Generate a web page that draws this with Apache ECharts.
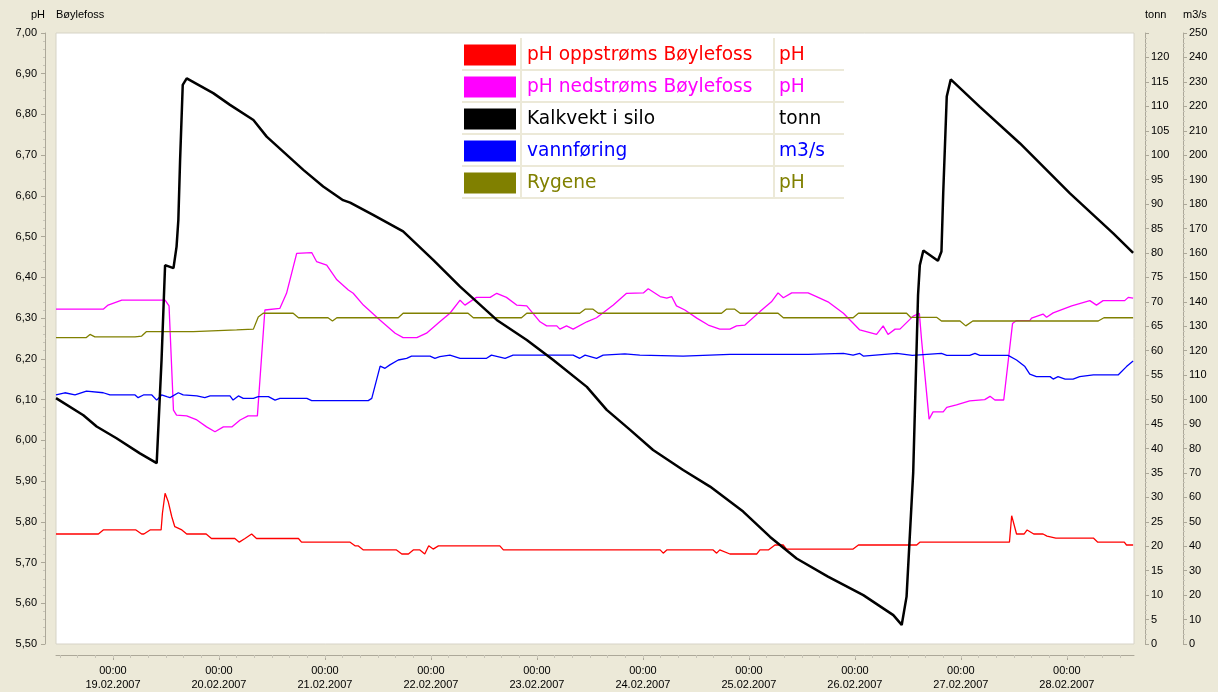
<!DOCTYPE html>
<html>
<head>
<meta charset="utf-8">
<title>Bøylefoss</title>
<script src="https://cdn.jsdelivr.net/npm/echarts@6/dist/echarts.min.js"></script>
<style>
  html, body { margin: 0; padding: 0; background: #ece9d8; }
  #chart { width: 1218px; height: 692px; }
</style>
</head>
<body>
<div id="chart"></div>
<script>
// x values are hours counted from 19.02.2007 00:00
const dayHours = [0, 24, 48, 72, 96, 120, 144, 168, 192, 216]
const dayLabels = ['19.02.2007', '20.02.2007', '21.02.2007', '22.02.2007', '23.02.2007',
  '24.02.2007', '25.02.2007', '26.02.2007', '27.02.2007', '28.02.2007']

const seriesNames = ['pH oppstrøms Bøylefoss', 'pH nedstrøms Bøylefoss', 'Kalkvekt i silo', 'vannføring', 'Rygene']
const seriesUnits = ['pH', 'pH', 'tonn', 'm3/s', 'pH']
const seriesColors = ['#ff0000', '#ff00ff', '#000000', '#0000ff', '#808000']

// pH oppstrøms Bøylefoss [hour, pH]
const phOppstroms = [
  [-12.9, 5.770], [-3.3, 5.770], [-2.2, 5.780], [5.2, 5.780], [6.5, 5.770], [7.0, 5.770], [8.4, 5.780],
  [10.9, 5.780], [11.2, 5.821], [11.8, 5.870], [12.5, 5.850], [13.3, 5.813], [14.0, 5.788], [15.6, 5.780],
  [16.7, 5.770], [21.1, 5.770], [22.3, 5.759], [27.6, 5.759], [28.6, 5.750], [29.9, 5.759], [31.4, 5.770],
  [32.5, 5.759], [42.0, 5.759], [42.7, 5.750], [53.7, 5.750], [54.8, 5.741], [55.5, 5.741], [56.7, 5.731],
  [64.2, 5.731], [65.4, 5.721], [66.9, 5.721], [68.0, 5.731], [69.5, 5.731], [70.6, 5.721], [71.5, 5.741],
  [72.5, 5.733], [73.7, 5.741], [87.6, 5.741], [88.4, 5.731], [123.9, 5.731], [124.6, 5.723], [125.4, 5.731],
  [135.9, 5.731], [136.7, 5.723], [137.4, 5.731], [139.7, 5.721], [145.8, 5.721], [146.5, 5.731],
  [148.4, 5.731], [149.9, 5.743], [151.8, 5.743], [152.5, 5.733], [167.6, 5.733], [168.8, 5.743],
  [182.0, 5.743], [182.7, 5.750], [203.0, 5.750], [203.5, 5.815], [204.6, 5.770], [206.3, 5.770],
  [207.0, 5.780], [208.5, 5.770], [210.6, 5.770], [211.5, 5.765], [213.5, 5.760], [222.0, 5.760],
  [223.0, 5.750], [229.0, 5.750], [229.5, 5.743], [231.0, 5.743]
]

// pH nedstrøms Bøylefoss [hour, pH]
const phNedstroms = [
  [-12.9, 6.322], [-2.2, 6.322], [-1.1, 6.332], [2.0, 6.344], [11.8, 6.344], [12.7, 6.330], [13.7, 6.074],
  [14.4, 6.062], [16.7, 6.060], [19.0, 6.050], [21.2, 6.033], [23.1, 6.021], [25.0, 6.033], [26.9, 6.033],
  [28.8, 6.050], [30.6, 6.060], [32.7, 6.060], [34.4, 6.320], [37.8, 6.324], [39.3, 6.361], [41.6, 6.459],
  [45.0, 6.461], [46.1, 6.439], [48.4, 6.430], [50.7, 6.394], [53.3, 6.369], [54.4, 6.361], [56.7, 6.332],
  [60.5, 6.295], [63.9, 6.263], [65.7, 6.252], [68.8, 6.252], [71.0, 6.263], [74.0, 6.291], [76.3, 6.312],
  [78.6, 6.344], [79.7, 6.332], [82.3, 6.351], [85.4, 6.351], [86.9, 6.361], [89.1, 6.351], [91.4, 6.332],
  [93.7, 6.330], [96.7, 6.291], [98.2, 6.281], [100.5, 6.281], [101.2, 6.273], [102.7, 6.281],
  [104.2, 6.273], [107.3, 6.291], [109.5, 6.301], [113.3, 6.332], [116.3, 6.361], [120.1, 6.362],
  [121.2, 6.372], [123.9, 6.353], [125.4, 6.349], [126.5, 6.353], [127.6, 6.330], [129.5, 6.320],
  [132.2, 6.300], [134.8, 6.283], [137.4, 6.273], [139.7, 6.273], [141.2, 6.281], [143.1, 6.283],
  [146.5, 6.316], [149.1, 6.340], [150.6, 6.362], [151.8, 6.350], [153.7, 6.362], [157.4, 6.362],
  [159.3, 6.353], [161.9, 6.340], [165.4, 6.312], [169.1, 6.271], [172.9, 6.260], [174.4, 6.281],
  [175.5, 6.260], [177.1, 6.273], [178.2, 6.273], [181.2, 6.305], [182.6, 6.312], [183.1, 6.246],
  [184.8, 6.052], [185.7, 6.070], [188.0, 6.070], [188.8, 6.081], [191.0, 6.087], [194.0, 6.097],
  [197.4, 6.100], [198.6, 6.108], [199.7, 6.099], [201.7, 6.099], [203.7, 6.287], [204.6, 6.294],
  [207.6, 6.294], [208.0, 6.300], [210.6, 6.310], [211.4, 6.302], [212.9, 6.313], [217.1, 6.330],
  [221.2, 6.343], [222.7, 6.332], [224.2, 6.343], [229.1, 6.343], [229.9, 6.351], [231.0, 6.349]
]

// Kalkvekt i silo [hour, tonn]
const kalkvekt = [
  [-12.9, 50.3], [-6.7, 46.8], [-3.7, 44.5], [0.8, 42.1], [6.1, 39.0], [9.9, 37.0], [11.0, 58.1],
  [11.8, 77.5], [12.0, 77.7], [13.7, 76.9], [14.4, 81.3], [14.8, 86.7], [15.2, 99.0], [15.8, 114.4],
  [16.7, 115.7], [22.7, 112.7], [26.5, 110.3], [31.8, 107.2], [34.8, 103.8], [43.1, 97.0], [47.6, 93.6],
  [52.1, 90.8], [53.7, 90.3], [58.9, 87.8], [65.7, 84.4], [72.5, 78.6], [78.6, 73.1], [86.9, 66.3],
  [93.7, 62.2], [99.7, 58.1], [107.3, 52.6], [111.8, 47.9], [117.1, 43.8], [122.3, 39.7], [129.1, 35.6],
  [135.2, 32.2], [142.7, 27.1], [148.8, 21.9], [154.8, 17.5], [161.9, 13.8], [169.9, 10.0], [176.7, 5.9],
  [178.6, 3.9], [179.7, 9.7], [181.2, 35.0], [182.3, 71.4], [182.7, 77.5], [183.5, 80.5], [186.8, 78.4],
  [187.6, 80.3], [188.0, 92.2], [188.8, 112.0], [189.7, 115.5], [196.3, 109.9], [205.4, 102.4],
  [216.7, 92.2], [226.5, 84.0], [231.0, 80.0]
]

// vannføring [hour, m3/s]
const vannforing = [
  [-12.9, 101.9], [-10.9, 102.8], [-8.6, 101.9], [-6.0, 103.5], [-2.2, 102.8], [-0.7, 101.9], [5.0, 101.9],
  [5.7, 100.8], [6.9, 101.9], [8.8, 101.9], [9.9, 99.8], [11.0, 101.9], [12.2, 101.2], [12.9, 100.8],
  [14.8, 102.8], [15.9, 101.9], [19.0, 101.5], [20.8, 100.8], [22.0, 101.5], [26.5, 101.5], [27.2, 99.8],
  [28.4, 101.5], [29.5, 100.5], [31.8, 100.5], [32.9, 101.2], [35.2, 101.2], [36.7, 99.8], [37.8, 100.5],
  [43.9, 100.5], [45.0, 99.6], [57.8, 99.6], [58.6, 100.5], [60.5, 113.7], [61.6, 112.8], [62.7, 114.2],
  [64.6, 116.2], [66.5, 116.9], [67.6, 117.8], [71.8, 117.8], [72.9, 116.9], [74.0, 117.6], [76.3, 118.2],
  [78.6, 116.9], [84.6, 116.9], [85.7, 118.2], [88.8, 116.9], [90.6, 118.2], [104.2, 118.2], [105.7, 116.9],
  [106.9, 118.2], [109.5, 116.9], [111.0, 118.2], [115.9, 118.7], [119.3, 118.2], [129.1, 117.8],
  [139.7, 118.5], [145.8, 118.5], [152.5, 118.5], [157.4, 118.5], [165.4, 118.9], [167.6, 118.2],
  [169.1, 118.9], [169.9, 117.8], [177.5, 118.9], [181.0, 118.1], [187.6, 118.9], [188.8, 118.1],
  [194.0, 118.1], [195.2, 118.9], [196.3, 118.1], [202.7, 118.1], [204.6, 116.2], [206.5, 113.5],
  [207.6, 110.4], [209.1, 109.4], [212.2, 109.4], [212.9, 108.4], [214.0, 109.4], [215.6, 108.4],
  [217.4, 108.4], [218.9, 109.4], [222.0, 110.1], [227.6, 110.1], [229.5, 113.5], [231.0, 115.8]
]

// Rygene [hour, pH]
const rygene = [
  [-12.9, 6.252], [-6.1, 6.252], [-5.2, 6.260], [-4.1, 6.254], [5.0, 6.254], [6.5, 6.256], [7.6, 6.267],
  [18.2, 6.267], [18.6, 6.269], [28.0, 6.271], [31.8, 6.273], [32.9, 6.303], [34.0, 6.312], [40.8, 6.312],
  [42.0, 6.301], [48.7, 6.301], [49.7, 6.293], [50.7, 6.301], [64.6, 6.301], [65.7, 6.312], [80.4, 6.312],
  [81.6, 6.301], [92.5, 6.301], [93.7, 6.312], [105.7, 6.312], [106.9, 6.322], [108.7, 6.322],
  [109.9, 6.312], [137.8, 6.312], [138.9, 6.322], [140.8, 6.322], [142.0, 6.312], [150.6, 6.312],
  [151.8, 6.301], [167.6, 6.301], [168.8, 6.312], [179.7, 6.312], [180.6, 6.302], [186.5, 6.302],
  [187.6, 6.293], [191.8, 6.293], [193.1, 6.281], [194.7, 6.293], [223.1, 6.293], [224.4, 6.301],
  [231.0, 6.301]
]

const seriesData = [phOppstroms, phNedstroms, kalkvekt, vannforing, rygene]
const seriesAxis = [0, 0, 1, 2, 0]

// minor ticks every 4 hours
const minorHours = []
for (let h = -12; h <= 228; h += 4) minorHours.push(h)

const axisGrey = '#aca899'
const font = 'Liberation Sans'

const chart = echarts.init(document.getElementById('chart'))

function yAxisBase(opt) {
  return Object.assign({
    type: 'value',
    offset: 11,
    nameLocation: 'end',
    nameGap: 18,
    axisLine: { show: true, onZero: false, lineStyle: { color: axisGrey } },
    axisTick: { show: true, length: 4, lineStyle: { color: axisGrey } },
    minorTick: { show: true, splitNumber: 5, length: 2, lineStyle: { color: '#c8c5b8' } },
    splitLine: { show: false },
    axisLabel: { fontFamily: font, fontSize: 11, color: '#000', margin: 6 }
  }, opt)
}

chart.setOption({
  backgroundColor: '#ece9d8',
  animation: false,
  title: {
    text: 'Bøylefoss',
    left: 56,
    top: 9,
    padding: 0,
    textStyle: { fontFamily: font, fontSize: 11, fontWeight: 'normal', color: '#000' }
  },
  grid: {
    left: 56,
    right: 84,
    top: 33,
    bottom: 48,
    show: true,
    backgroundColor: '#ffffff',
    borderColor: '#d6d3c6',
    borderWidth: 1
  },
  legend: {
    orient: 'vertical',
    left: 464,
    top: 44.5,
    padding: 0,
    z: 6,
    icon: 'rect',
    itemWidth: 52,
    itemHeight: 21,
    itemGap: 11,
    selectedMode: false,
    data: seriesNames.map((n, i) => ({ name: n, textStyle: { color: seriesColors[i] } })),
    formatter: name => '{n|' + name + '}{u|' + seriesUnits[seriesNames.indexOf(name)] + '}',
    textStyle: {
      fontFamily: 'DejaVu Sans',
      fontSize: 18.6,
      rich: {
        n: { width: 252, padding: [0, 0, 0, 6], fontFamily: 'DejaVu Sans', fontSize: 18.6, lineHeight: 21 },
        u: { width: 64, fontFamily: 'DejaVu Sans', fontSize: 18.6, lineHeight: 21 }
      }
    }
  },
  graphic: {
    elements: [
      { type: 'rect', z: 5, shape: { x: 462, y: 38, width: 382, height: 162 }, style: { fill: '#ffffff' } },
      ...[70, 102, 134, 166, 198].map(y => ({
        type: 'line', z: 5, shape: { x1: 462, y1: y, x2: 844, y2: y }, style: { stroke: '#ece9d8', lineWidth: 2 }
      })),
      ...[521, 774].map(x => ({
        type: 'line', z: 5, shape: { x1: x, y1: 38, x2: x, y2: 198 }, style: { stroke: '#ece9d8', lineWidth: 2 }
      }))
    ]
  },
  xAxis: [
    {
      type: 'value',
      min: -12.9,
      max: 231.2,
      offset: 11,
      position: 'bottom',
      axisLine: { onZero: false, lineStyle: { color: axisGrey } },
      axisTick: { customValues: dayHours, length: 5, lineStyle: { color: axisGrey } },
      splitLine: { show: false },
      axisLabel: {
        customValues: dayHours,
        margin: 9,
        fontFamily: font,
        fontSize: 11,
        lineHeight: 14,
        color: '#000',
        formatter: v => '00:00\n' + dayLabels[dayHours.indexOf(v)]
      }
    },
    {
      type: 'value',
      min: -12.9,
      max: 231.2,
      offset: 11,
      position: 'bottom',
      axisLine: { show: false, onZero: false },
      axisTick: { customValues: minorHours, length: 3, lineStyle: { color: '#c8c5b8' } },
      axisLabel: { show: false },
      splitLine: { show: false }
    }
  ],
  yAxis: [
    yAxisBase({
      position: 'left',
      min: 5.5,
      max: 7.0,
      interval: 0.1,
      name: 'pH',
      nameTextStyle: { fontFamily: font, fontSize: 11, color: '#000', align: 'right', verticalAlign: 'middle' },
      axisLabel: { fontFamily: font, fontSize: 11, color: '#000', margin: 8, formatter: v => v.toFixed(2).replace('.', ',') }
    }),
    yAxisBase({
      position: 'right',
      min: 0,
      max: 125,
      interval: 5,
      name: 'tonn',
      nameTextStyle: { fontFamily: font, fontSize: 11, color: '#000', align: 'left', verticalAlign: 'middle' },
      axisLabel: { fontFamily: font, fontSize: 11, color: '#000', margin: 6, showMaxLabel: false }
    }),
    yAxisBase({
      position: 'right',
      offset: 49,
      min: 0,
      max: 250,
      interval: 10,
      name: 'm3/s',
      nameTextStyle: { fontFamily: font, fontSize: 11, color: '#000', align: 'left', verticalAlign: 'middle' }
    })
  ],
  series: seriesNames.map((name, i) => ({
    name: name,
    type: 'line',
    xAxisIndex: 0,
    yAxisIndex: seriesAxis[i],
    data: seriesData[i],
    showSymbol: false,
    z: i === 2 ? 3 : 2,
    color: seriesColors[i],
    lineStyle: { color: seriesColors[i], width: i === 2 ? 2.5 : 1.3 }
  }))
})
</script>
</body>
</html>
